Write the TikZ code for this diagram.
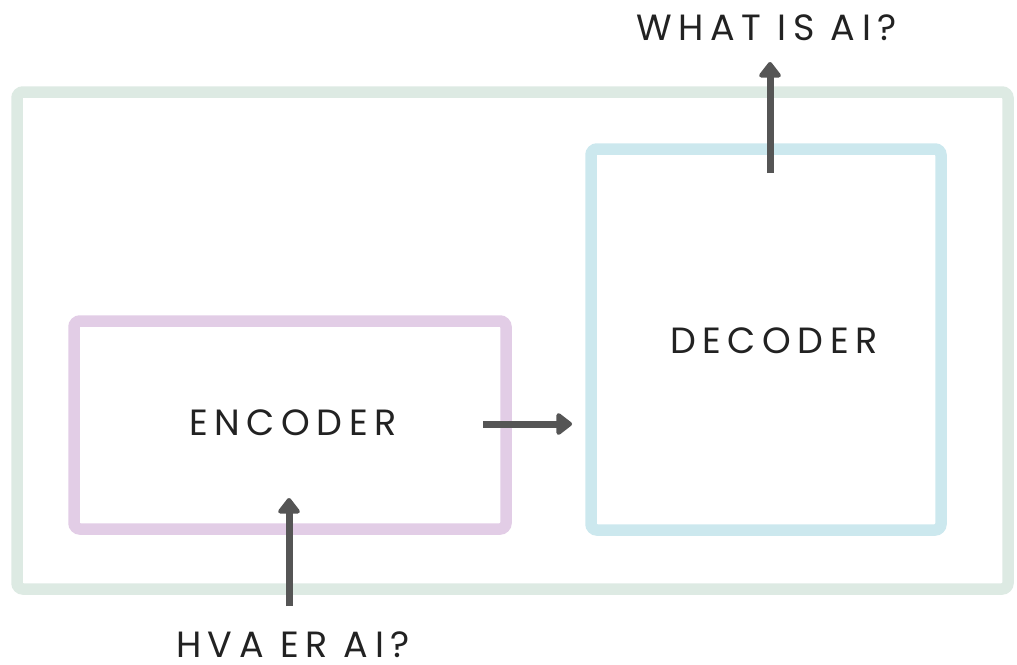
\documentclass[tikz,border=0pt]{standalone}
\usepackage{fontspec}
\setmainfont{Poppins}[LetterSpace=18]
\usetikzlibrary{arrows.meta}
\definecolor{outerc}{HTML}{DDEAE3}
\definecolor{encc}{HTML}{E2CDE6}
\definecolor{decc}{HTML}{CCE8EE}
\definecolor{arrc}{HTML}{555555}
\definecolor{txtc}{HTML}{222222}
\begin{document}
\begin{tikzpicture}[x=1pt,y=-1pt,
  boxstyle/.style={draw, line width=11.5pt, rounded corners=6pt, inner sep=0pt},
  lbl/.style={text=txtc, font=\fontsize{36.5}{40}\selectfont, inner sep=0pt, anchor=base, text depth=0pt, text height=26pt},
  flow/.style={draw=arrc, line width=7pt, -{Triangle[width=25pt,length=17pt,round]}}]
\useasboundingbox (0,0) rectangle (1017,664);
\node[boxstyle, draw=outerc, minimum width=991pt, minimum height=497pt] (outer) at (512.5,340.5) {};
\node[boxstyle, draw=encc, minimum width=432pt, minimum height=208pt] (enc) at (290,425) {};
\node[lbl] (enctxt) at (293,435) {ENCODER};
\node[boxstyle, draw=decc, minimum width=350pt, minimum height=381pt] (dec) at (766,339.5) {};
\node[lbl] (dectxt) at (774,353) {DECODER};
\node[lbl] (out) at (766.5,40) {WHAT IS AI?};
\node[lbl] (in) at (293,657) {HVA ER AI?};
\coordinate (a1) at (770,173);
\coordinate (a1e) at (770,62);
\coordinate (b1) at (289,606);
\coordinate (b1e) at (289,498);
\coordinate (c1) at (483,424);
\coordinate (c1e) at (572,424);
\draw[flow] (a1) -- (a1e);
\draw[flow] (b1) -- (b1e);
\draw[flow] (c1) -- (c1e);
\end{tikzpicture}
\end{document}
